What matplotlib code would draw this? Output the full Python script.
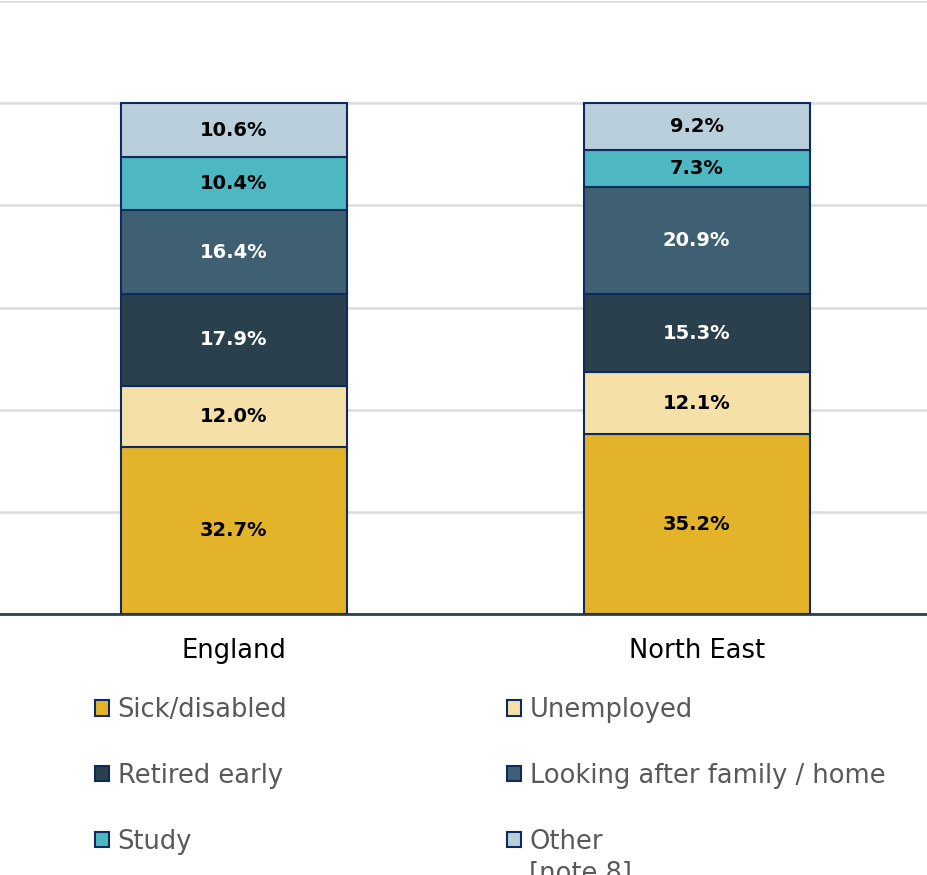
import matplotlib
matplotlib.use("Agg")
import matplotlib.pyplot as plt
from matplotlib.patches import Patch
import numpy as np

# Reasons for economic inactivity, share of inactive population (%)
regions = ["England", "North East"]
categories = ["Sick/disabled", "Unemployed", "Retired early",
              "Looking after family / home", "Study", "Other"]
sick_disabled = [32.7, 35.2]
unemployed = [12.0, 12.1]
retired_early = [17.9, 15.3]
family_home = [16.4, 20.9]
study = [10.4, 7.3]
other = [10.6, 9.2]

series = [sick_disabled, unemployed, retired_early, family_home, study, other]
colors = ["#e3b42a", "#f5e1a8", "#2b404d", "#3e6072", "#4eb8c2", "#b9cfdb"]
label_colors = ["black", "black", "white", "white", "black", "black"]
edge = "#0f2a5c"

fig = plt.figure(figsize=(9.28, 8.75), dpi=100)
ax = fig.add_axes([0.0, (875 - 614) / 875, 1.0, 613 / 875])

x = np.arange(len(regions))
bottom = np.zeros(len(regions))
for vals, col, lc in zip(series, colors, label_colors):
    vals = np.array(vals)
    ax.bar(x, vals, width=0.488, bottom=bottom, color=col,
           edgecolor=edge, linewidth=1.5, zorder=3)
    for xi, b, v in zip(x, bottom, vals):
        ax.text(xi, b + v / 2, f"{v:.1f}%", ha="center", va="center",
                color=lc, fontsize=14, fontweight="bold",
                family="DejaVu Sans", zorder=4)
    bottom += vals

ax.set_xlim(-0.505, 1.5)
ax.set_ylim(0, 120)
ax.set_yticks(np.arange(0, 121, 20))
ax.yaxis.grid(True, color="#dcdcdc", linewidth=1.8, zorder=0)
ax.set_axisbelow(True)
ax.tick_params(axis="y", left=False, labelleft=False)
ax.tick_params(axis="x", bottom=False, labelsize=18.5, labelcolor="black",
               pad=14)
ax.set_xticks(x)
ax.set_xticklabels(regions)
for s in ["left", "right", "top"]:
    ax.spines[s].set_visible(False)
ax.spines["bottom"].set_color("#2d3e50")
ax.spines["bottom"].set_linewidth(2)

handles = [Patch(facecolor=c, edgecolor=edge, linewidth=1.5) for c in colors]
leg_kw = dict(frameon=False, fontsize=18.5, handlelength=0.55,
              handleheight=0.55, handletextpad=0.33, labelspacing=1.55,
              borderpad=0, borderaxespad=0, labelcolor="#595959",
              loc="upper left")
order1 = [0, 2, 4]
order2 = [1, 3, 5]
fig.legend([handles[i] for i in order1], [categories[i] for i in order1],
           bbox_to_anchor=(95 / 928, 1 - 697 / 875), **leg_kw)
fig.legend([handles[i] for i in order2], [categories[i] for i in order2],
           bbox_to_anchor=(507 / 928, 1 - 697 / 875), **leg_kw)
fig.text(529 / 928, 1 - 861 / 875, "[note 8]", fontsize=18.5,
         color="#595959", ha="left", va="top")

fig.savefig("out.png", dpi=100)
